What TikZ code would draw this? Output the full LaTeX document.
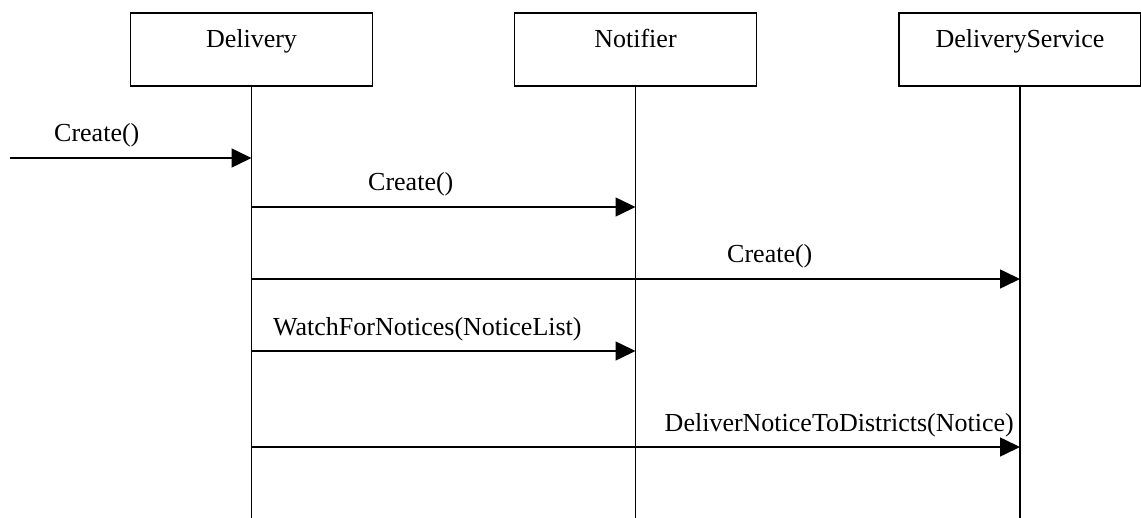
\documentclass[tikz,border=0pt]{standalone}
\usepackage{fontspec}
\setmainfont{Liberation Serif}
\usetikzlibrary{arrows.meta}
\begin{document}
\begin{tikzpicture}[x=1pt,y=-1pt,
  obj/.style={draw, line width=1.3pt, minimum width=242pt, minimum height=73pt, inner sep=0pt},
  lifeline/.style={line width=1.3pt},
  msg/.style={line width=1.6pt, -{Triangle[length=20pt,width=19pt]}},
  lbl/.style={font=\fontsize{26}{30}\selectfont, inner sep=0pt, anchor=base west}]
\useasboundingbox (0,0) rectangle (1141,518);

% object boxes with their names near the top
\node[obj] (dl) at (251.5,49.5) {};
\node[obj] (nt) at (635.5,49.5) {};
\node[obj] (ds) at (1020,49.5) {};
\node[lbl, anchor=base] (dlname) at (251.5,48) {Delivery};
\node[lbl, anchor=base] (ntname) at (635.5,48) {Notifier};
\node[lbl, anchor=base] (dsname) at (1020,48) {DeliveryService};

% lifelines down to the bottom edge
\coordinate (bottom) at (0,518);
\draw[lifeline] (dl.south) -- (dl.south |- bottom);
\draw[lifeline] (nt.south) -- (nt.south |- bottom);
\draw[lifeline] (ds.south) -- (ds.south |- bottom);

% messages
\coordinate (src) at (10,158);
\draw[msg] (src) -- (src -| dl.south);
\node[lbl] (l1) at (54,142) {Create()};

\coordinate (y2) at (0,207);
\draw[msg] (dl.south |- y2) -- (nt.south |- y2);
\node[lbl] (l2) at (368,191) {Create()};

\coordinate (y3) at (0,279);
\draw[msg] (dl.south |- y3) -- (ds.south |- y3);
\node[lbl] (l3) at (727,263) {Create()};

\coordinate (y4) at (0,351);
\draw[msg] (dl.south |- y4) -- (nt.south |- y4);
\node[lbl] (l4) at (273,336) {WatchForNotices(NoticeList)};

\coordinate (y5) at (0,447);
\draw[msg] (dl.south |- y5) -- (ds.south |- y5);
\node[lbl, anchor=base east] (l5) at (1014,432) {DeliverNoticeToDistricts(Notice)};
\end{tikzpicture}
\end{document}
